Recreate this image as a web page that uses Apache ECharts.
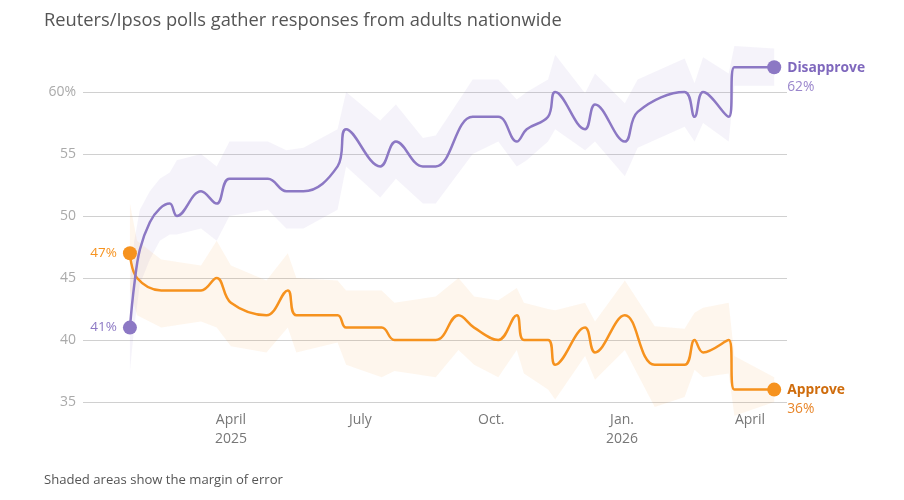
<!DOCTYPE html>
<html>
<head>
<meta charset="utf-8">
<script src="https://cdn.jsdelivr.net/npm/echarts@6/dist/echarts.min.js"></script>
<style>
  html, body { margin: 0; background: #fff; }
  #chart { width: 904px; height: 500px; }
</style>
</head>
<body>
<div id="chart"></div>
<script>
// Disapprove: poll dates, share and margin of error band
const disDates = ['2025-01-20','2025-01-23','2025-01-27','2025-02-03','2025-02-10','2025-02-17','2025-02-22','2025-03-11','2025-03-22','2025-03-31',
  '2025-04-27','2025-05-10','2025-05-22','2025-06-15','2025-06-21','2025-07-15','2025-07-26','2025-08-14','2025-08-23',
  '2025-09-18','2025-10-06','2025-10-19','2025-10-26','2025-11-10','2025-11-15','2025-12-06','2025-12-13','2026-01-03',
  '2026-01-12','2026-02-14','2026-02-21','2026-02-27','2026-03-17','2026-03-21','2026-04-18'];
const disValues = [41,44.4,47.3,49.5,50.6,51,50,52,51,53,53,52,52,54,57,54,56,54,54,58,58,56,57,58,60,57,59,56,58.4,60,58,60,58,62,62];
const disLow  = [37.5,41,44.5,46.5,48,48.5,48.5,49,48,50,50.5,49,49,50.5,54,51.5,53,51,51,55,56,54,54.5,56,57,55.3,56,53.2,55.5,57.2,56,57.5,56,60.5,60.5];
const disHigh = [44.5,48,50.5,52,53,53.5,54.5,55,54,56,56,55.3,55.5,57,60,57.7,59,56.3,56.5,61,61,59.4,60,61,63,59.9,61.5,59.1,61,62.7,60.7,62.8,61.5,63.7,63.5];

// Approve
const appDates = ['2025-01-20','2025-01-25','2025-02-11','2025-03-11','2025-03-22','2025-04-01','2025-04-26','2025-05-11',
  '2025-05-17','2025-06-15','2025-06-21','2025-07-16','2025-07-25','2025-08-23','2025-09-08','2025-09-19','2025-10-06',
  '2025-10-19','2025-10-24','2025-11-10','2025-11-15','2025-12-06','2025-12-13','2026-01-03','2026-01-24',
  '2026-02-14','2026-02-21','2026-02-27','2026-03-17','2026-03-21','2026-04-18'];
const appValues = [47,45,44,44,45,43,42,44,42,42,41,41,40,40,42,41,40,42,40,40,38,41,39,42,38,38,40,39,40,36,36];
const appLow  = [44,42,41,41.5,41,39.5,39,41,39,39.8,38,37,37.5,37,39.2,38,37,39.2,37.3,36,35.2,38.7,36.8,39.2,34.6,35.4,37.6,37,37.3,33.9,35];
const appHigh = [51,48,46.5,46,48,46,44.8,47,45,44.8,44,44,43,43.5,45,43.5,43.2,44.2,43,42.5,42.4,43,41.5,44.8,41.1,40.9,42.2,42.6,43,38.7,37];

// axis ticks
const xTickDates = ['2025-04-01','2025-07-01','2025-10-01','2026-01-01','2026-04-01'];
const xTickLabels = ['April\n2025','July','Oct.','Jan.\n2026','April'];

const purple = '#8c78c4';
const orange = '#f6921e';
const font = '"Open Sans", sans-serif';

function toTime(s) {
  const p = s.split('-');
  return Date.UTC(+p[0], +p[1] - 1, +p[2]);
}

function lineData(dates, values, color, endName, endColor, valColor) {
  const last = dates.length - 1;
  return dates.map(function (d, i) {
    const item = { value: [toTime(d), values[i]] };
    if (i === 0) {
      item.symbol = 'circle';
      item.symbolSize = 14;
      item.label = {
        show: true, position: 'left', distance: 6,
        formatter: values[i] + '%', color: color, fontSize: 13.5, fontFamily: font
      };
    } else if (i === last) {
      item.symbol = 'circle';
      item.symbolSize = 14;
      item.label = {
        show: true, position: 'right', distance: 6, offset: [0, 10],
        formatter: '{a|' + endName + '}\n{b|' + values[i] + '%}',
        rich: {
          a: { color: endColor, fontSize: 13.8, fontWeight: 'bold', fontFamily: font, lineHeight: 19 },
          b: { color: valColor, fontSize: 13.8, fontFamily: font, lineHeight: 19 }
        }
      };
    }
    return item;
  });
}

// margin of error drawn as one polygon through the axis scales
function bandSeries(dates, low, high, color) {
  const rows = dates.map(function (d, i) { return [toTime(d), low[i], high[i]]; });
  return {
    type: 'custom', silent: true, z: 1, clip: false,
    data: rows,
    encode: { x: 0, y: [1, 2] },
    renderItem: function (params, api) {
      if (params.dataIndex !== 0) return null;
      const pts = [];
      for (let i = 0; i < rows.length; i++) pts.push(api.coord([rows[i][0], rows[i][2]]));
      for (let i = rows.length - 1; i >= 0; i--) pts.push(api.coord([rows[i][0], rows[i][1]]));
      return { type: 'polygon', shape: { points: pts }, style: { fill: color } };
    }
  };
}

const xTickTimes = xTickDates.map(toTime);

const chart = echarts.init(document.getElementById('chart'));
chart.setOption({
  animation: false,
  textStyle: { fontFamily: font },
  title: [
    {
      text: 'Reuters/Ipsos polls gather responses from adults nationwide',
      left: 39, top: 7,
      textStyle: { fontSize: 18.3, fontWeight: 'normal', color: '#555', fontFamily: font }
    },
    {
      text: 'Shaded areas show the margin of error',
      left: 39, top: 469,
      textStyle: { fontSize: 13.1, fontWeight: 'normal', color: '#555', fontFamily: font }
    }
  ],
  grid: { left: 83, right: 117, top: 30, bottom: 98 },
  xAxis: {
    type: 'value',
    min: toTime('2024-12-18'),
    max: toTime('2026-04-27'),
    axisLine: { show: false },
    axisTick: { show: false },
    splitLine: { show: false },
    axisLabel: {
      customValues: xTickTimes,
      margin: 9,
      color: '#777',
      fontSize: 14,
      lineHeight: 19,
      fontFamily: font,
      formatter: function (v) {
        const i = xTickTimes.indexOf(v);
        return i >= 0 ? xTickLabels[i] : '';
      }
    }
  },
  yAxis: {
    type: 'value',
    min: 35, max: 65, interval: 5,
    axisLine: { show: false },
    axisTick: { show: false },
    splitLine: { lineStyle: { color: '#d0d0d0', width: 1 }, showMaxLine: false },
    axisLabel: {
      showMaxLabel: false,
      margin: 7,
      color: '#aaa',
      fontSize: 14,
      fontFamily: font,
      formatter: function (v) { return v === 60 ? '60%' : String(v); }
    }
  },
  series: [
    bandSeries(disDates, disLow, disHigh, 'rgba(140,120,196,0.09)'),
    bandSeries(appDates, appLow, appHigh, 'rgba(246,146,30,0.08)'),
    {
      type: 'line', name: 'Approve', clip: false, z: 3,
      data: lineData(appDates, appValues, orange, 'Approve', '#cf6c0c', '#e8862a'),
      smooth: 0.4,
      symbol: 'none', showSymbol: true,
      lineStyle: { color: orange, width: 2.5 },
      itemStyle: { color: orange },
      emphasis: { disabled: true }
    },
    {
      type: 'line', name: 'Disapprove', clip: false, z: 4,
      data: lineData(disDates, disValues, purple, 'Disapprove', '#7f68bd', '#9a86cc'),
      smooth: 0.4,
      symbol: 'none', showSymbol: true,
      lineStyle: { color: purple, width: 2.5 },
      itemStyle: { color: purple },
      emphasis: { disabled: true }
    }
  ]
});
</script>
</body>
</html>
